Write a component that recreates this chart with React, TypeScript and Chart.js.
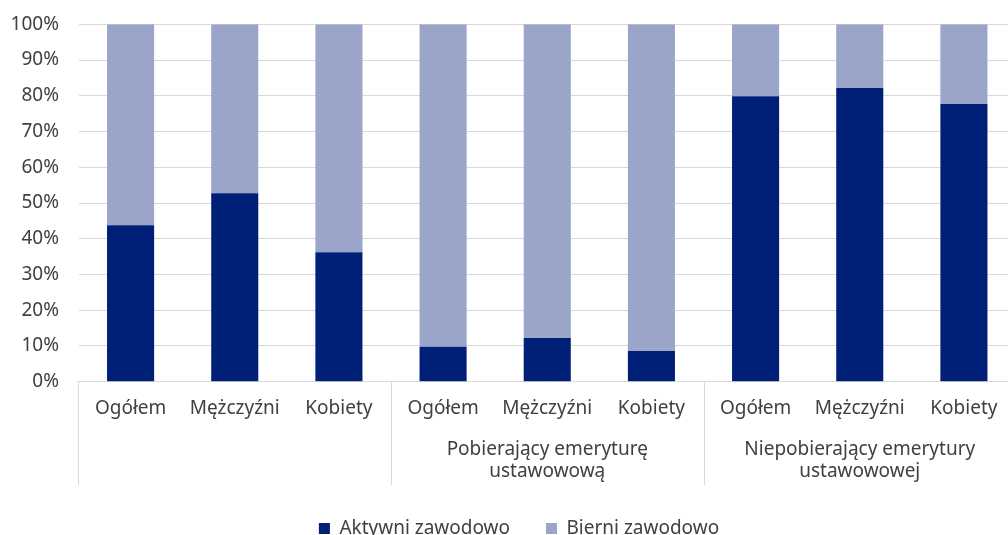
import React, { useEffect, useRef } from 'react';
import { Chart, registerables } from 'chart.js';

Chart.register(...registerables);

// ---- data ----
const categories = ['Ogółem', 'Mężczyźni', 'Kobiety', 'Ogółem', 'Mężczyźni', 'Kobiety', 'Ogółem', 'Mężczyźni', 'Kobiety'];
const groupLabels: string[][] = [[], ['Pobierający emeryturę', 'ustawowową'], ['Niepobierający emerytury', 'ustawowowej']];
const groupSize = 3;
const seriesNames = ['Aktywni zawodowo', 'Bierni zawodowo'];
const aktywni = [43.8, 52.7, 36.2, 9.8, 12.2, 8.6, 79.9, 82.2, 77.7];
const bierni = [56.2, 47.3, 63.8, 90.2, 87.8, 91.4, 20.1, 17.8, 22.3];
const yMin = 0;
const yMax = 100;
const yStep = 10;

// ---- style ----
const FONT = "'Noto Sans', sans-serif";
const TEXT = '#404040';
const GRID = '#D9D9D9';
const DARK = '#001F77';
const LIGHT = '#9BA5C9';
const W = 1016;
const H = 548;

const groupAxisPlugin = {
  id: 'groupAxis',
  afterLayout(chart: any) {
    // centre the legend under the plot like the original layout
    if (chart.legend) chart.legend.left += 22;
  },
  afterDraw(chart: any) {
    const x = chart.scales.x;
    const ctx = chart.ctx;
    const step = x.getPixelForValue(1) - x.getPixelForValue(0);
    const top = x.top;
    ctx.save();
    ctx.strokeStyle = GRID;
    ctx.lineWidth = 1;
    const nGroups = groupLabels.length;
    for (let g = 0; g <= nGroups; g++) {
      const px = Math.round(x.getPixelForValue(g * groupSize) - step / 2) + 0.5;
      ctx.beginPath();
      ctx.moveTo(px, top);
      ctx.lineTo(px, top + 103.3);
      ctx.stroke();
    }
    ctx.fillStyle = TEXT;
    ctx.font = `19px ${FONT}`;
    ctx.textAlign = 'center';
    ctx.textBaseline = 'alphabetic';
    for (let g = 0; g < nGroups; g++) {
      const cx = (x.getPixelForValue(g * groupSize) + x.getPixelForValue(g * groupSize + groupSize - 1)) / 2;
      groupLabels[g].forEach((line, i) => {
        ctx.fillText(line, cx, top + 73.3 + i * 22);
      });
    }
    ctx.restore();
  },
};

export default function App() {
  const ref = useRef<HTMLCanvasElement>(null);
  useEffect(() => {
    document.documentElement.style.overflow = 'hidden';
    document.body.style.overflow = 'hidden';
    const chart = new Chart(ref.current as HTMLCanvasElement, {
      type: 'bar',
      data: {
        labels: categories,
        datasets: [
          { label: seriesNames[0], data: aktywni, backgroundColor: DARK, borderWidth: 0, barPercentage: 0.452, categoryPercentage: 1 },
          { label: seriesNames[1], data: bierni, backgroundColor: LIGHT, borderWidth: 0, barPercentage: 0.452, categoryPercentage: 1 },
        ],
      },
      options: {
        responsive: true,
        maintainAspectRatio: false,
        animation: false,
        layout: { padding: { left: 0, right: 0, top: 24.3, bottom: 0 } },
        plugins: {
          legend: {
            position: 'bottom',
            labels: { boxWidth: 11, boxHeight: 11, padding: 36, color: TEXT, font: { family: FONT, size: 19 } },
          },
          tooltip: { enabled: false },
        },
        scales: {
          x: {
            stacked: true,
            grid: { display: false, drawTicks: false },
            border: { display: true, color: GRID },
            ticks: { color: TEXT, font: { family: FONT, size: 19 }, padding: 15, maxRotation: 0, autoSkip: false },
            afterFit: (s: any) => {
              s.height = s.chart.height - (s.chart.legend ? s.chart.legend.height : 0) - 381.7;
            },
          },
          y: {
            stacked: true,
            min: yMin,
            max: yMax,
            ticks: { stepSize: yStep, callback: (v: any) => v + '%', padding: 0, color: TEXT, font: { family: FONT, size: 19 } },
            grid: { color: GRID, drawTicks: true, tickLength: 19.5, tickColor: 'rgba(0,0,0,0)' },
            border: { display: false },
            afterFit: (s: any) => {
              s.width = 78.5;
            },
          },
        },
      },
      plugins: [groupAxisPlugin],
    } as any);
    return () => chart.destroy();
  }, []);
  return (
    <div style={{ position: 'absolute', left: 0, top: 0, width: W, height: H }}>
      <canvas ref={ref} />
    </div>
  );
}
